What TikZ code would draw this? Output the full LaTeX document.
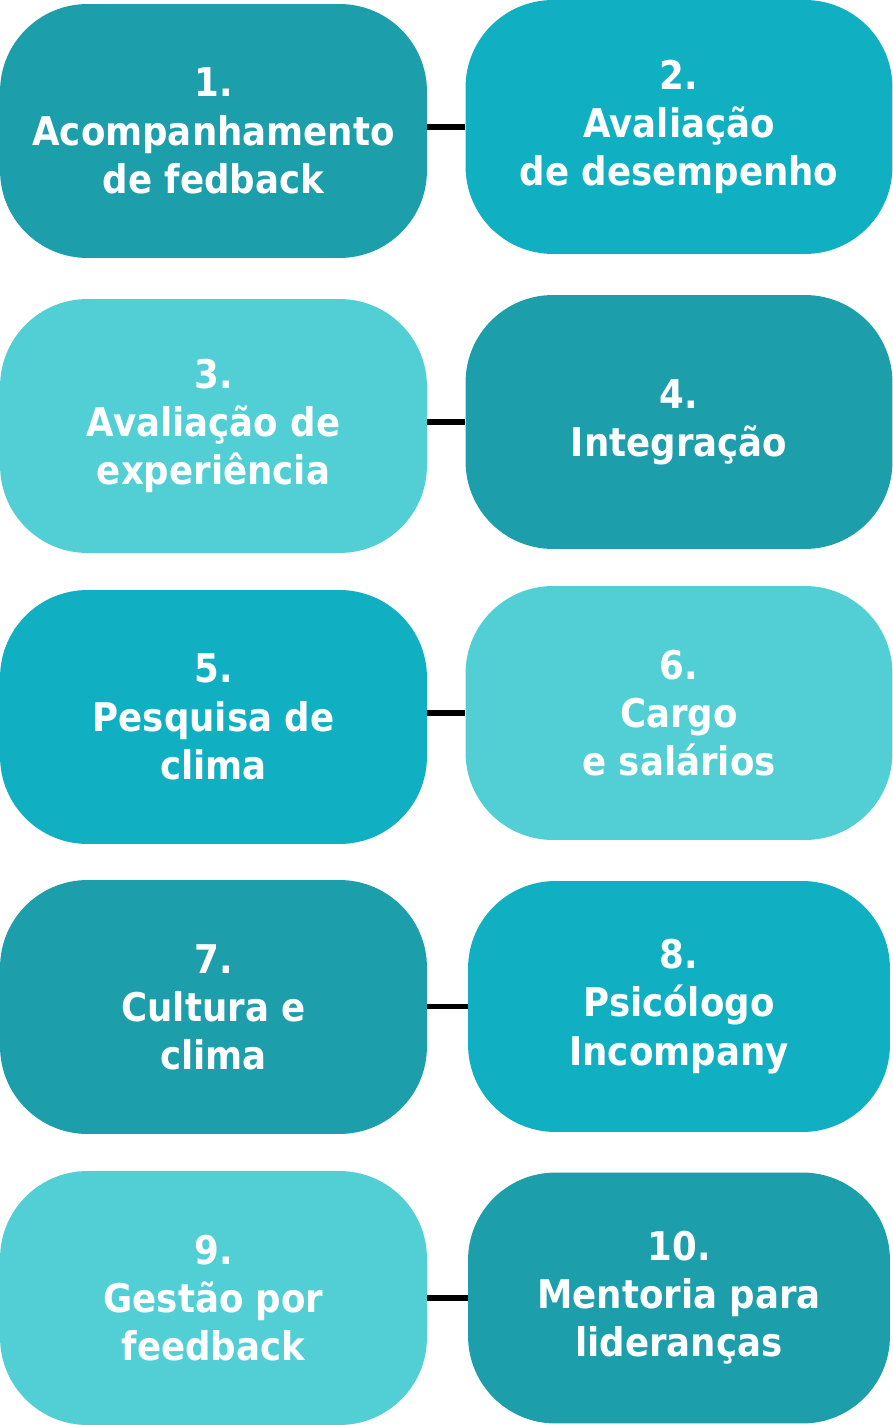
\documentclass[tikz,border=0pt]{standalone}
\usepackage{fontspec}
\setmainfont{DejaVu Sans}[FakeStretch=0.9]
\definecolor{tealdark}{HTML}{1C9EAB}
\definecolor{tealmid}{HTML}{10B0C2}
\definecolor{teallight}{HTML}{52CFD4}
\begin{document}
\begin{tikzpicture}[x=0.02cm,y=-0.02cm,
  card/.style={rectangle,rounded corners=1.75cm,inner sep=0pt,text=white,align=center,
    minimum width=8.54cm,minimum height=5.08cm,
    font=\bfseries\fontsize{22.5}{27.4}\selectfont},
  narrow/.style={card,minimum width=8.44cm,minimum height=5.02cm},
  link/.style={line width=3.4pt,black}]
\useasboundingbox (0,0) rectangle (892,1425);
\node[card,fill=tealdark] (b1) at (213.5,131) {1.\\Acompanhamento\\de fedback};
\node[card,fill=tealmid] (b2) at (679,127) {2.\\Avaliação\\de desempenho};
\node[card,fill=teallight] (b3) at (213.5,426) {3.\\Avaliação de\\experiência};
\node[card,fill=tealdark] (b4) at (679,422) {4.\\Integração};
\node[card,fill=tealmid] (b5) at (213.5,717) {5.\\Pesquisa de\\clima};
\node[card,fill=teallight] (b6) at (679,713) {6.\\Cargo\\e salários};
\node[card,fill=tealdark] (b7) at (213.5,1007) {7.\\Cultura e\\clima};
\node[narrow,fill=tealmid] (b8) at (679,1006.5) {8.\\Psicólogo\\Incompany};
\node[card,fill=teallight] (b9) at (213.5,1298) {9.\\Gestão por\\feedback};
\node[narrow,fill=tealdark] (b10) at (679,1298) {10.\\Mentoria para\\lideranças};
\draw[link] (b2.west -| b1.east) -- (b2.west);
\draw[link] (b4.west -| b3.east) -- (b4.west);
\draw[link] (b6.west -| b5.east) -- (b6.west);
\draw[link] (b8.west -| b7.east) -- (b8.west);
\draw[link] (b10.west -| b9.east) -- (b10.west);
\end{tikzpicture}
\end{document}
